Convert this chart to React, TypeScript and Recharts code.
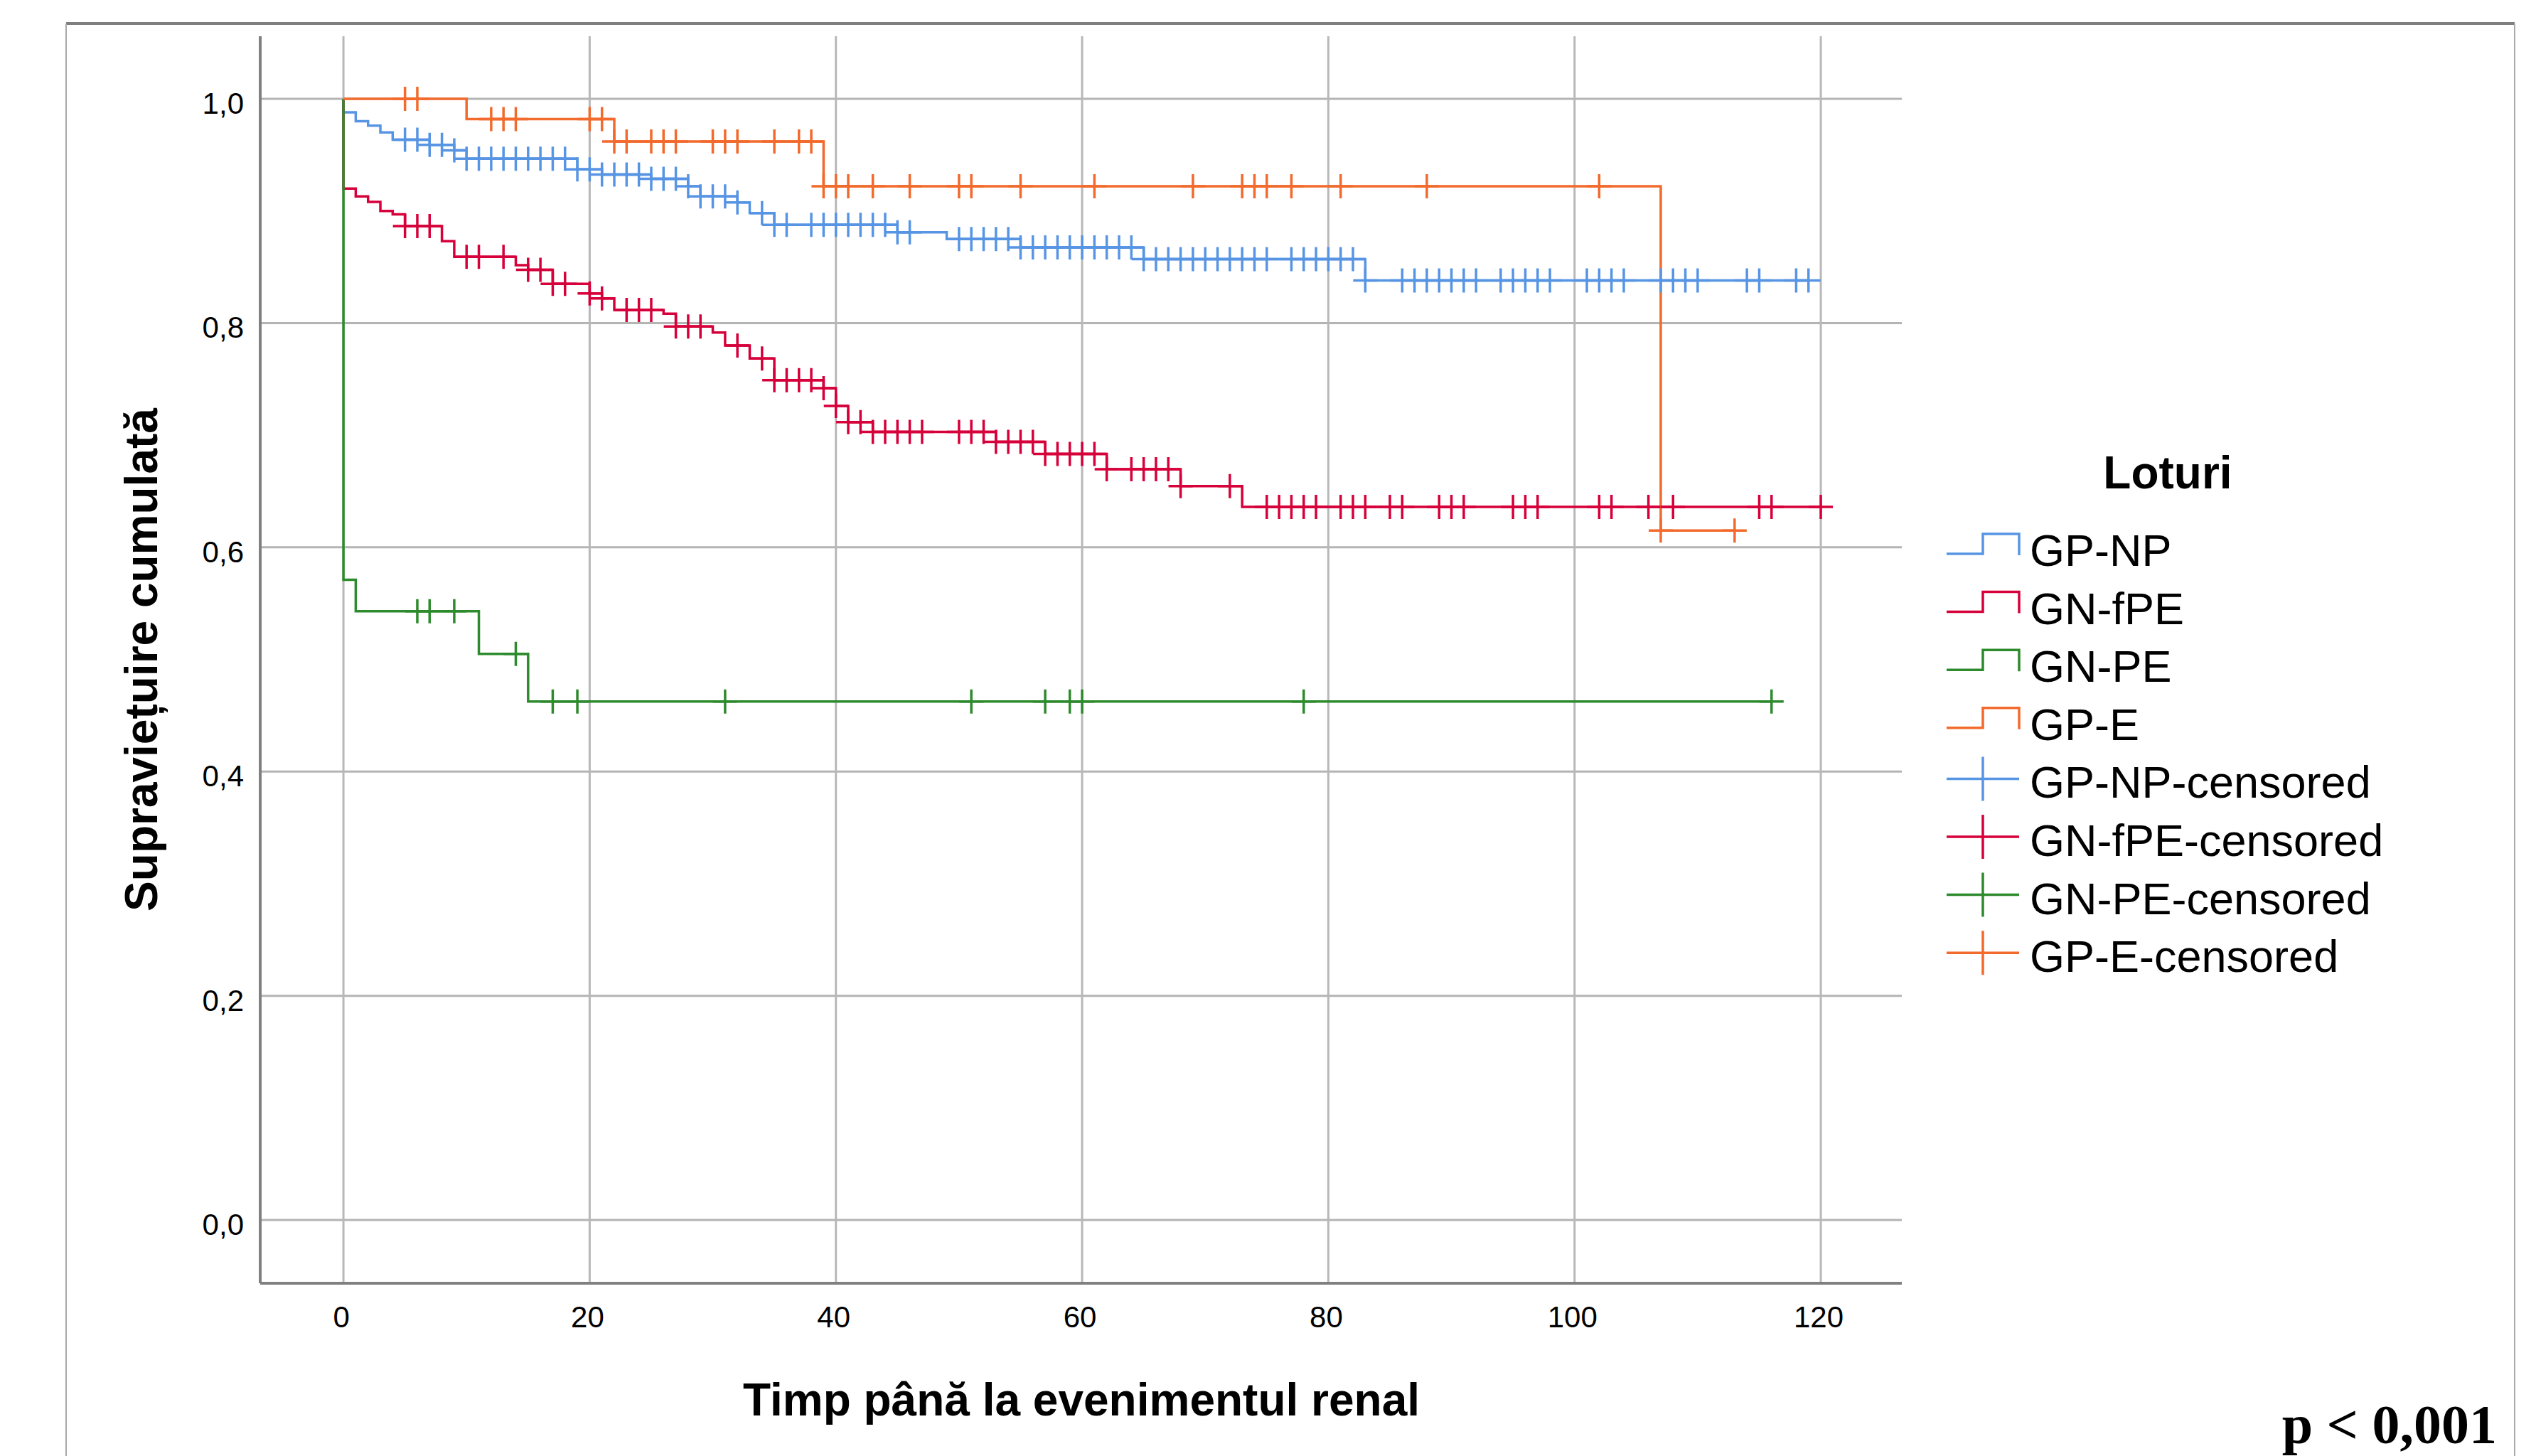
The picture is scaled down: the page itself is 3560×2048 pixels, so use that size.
import React from "react";
import { ComposedChart, Line, Scatter, XAxis, YAxis, ReferenceLine, Legend } from "recharts";

const W = 3560;
const H = 2048;
const FONT = "'Liberation Sans', Arial, sans-serif";

// axis ticks
const timeTicks = [0, 20, 40, 60, 80, 100, 120];
const survTicks = [0, 0.2, 0.4, 0.6, 0.8, 1.0];

// GP-NP: step times, survival after each step, censored times
const gpNpTime = [0, 0, 1, 2, 3, 4, 7, 9, 10, 19, 21, 25, 28, 29, 32, 33, 35, 45, 49, 55, 65, 83, 119];
const gpNpSurv = [1, 0.988, 0.98, 0.976, 0.97, 0.9635, 0.959, 0.954, 0.9466, 0.937, 0.9325, 0.9287, 0.922, 0.913, 0.9076, 0.898, 0.8876, 0.881, 0.875, 0.8675, 0.857, 0.838, 0.838];
const gpNpCensored = [5, 6, 7, 8, 9, 10, 11, 12, 13, 14, 15, 16, 17, 18, 19, 20, 21, 22, 23, 24, 25, 26, 27, 28, 29, 30, 31, 32, 34, 35, 36, 38, 39, 40, 41, 42, 43, 44, 45, 46, 50, 51, 52, 53, 54, 55, 56, 57, 58, 59, 60, 61, 62, 63, 64, 65, 66, 67, 68, 69, 70, 71, 72, 73, 74, 75, 77, 78, 79, 80, 81, 82, 83, 86, 87, 88, 89, 90, 91, 92, 94, 95, 96, 97, 98, 101, 102, 103, 104, 107, 108, 109, 110, 114, 115, 118, 119];

// GN-fPE
const gnFpeTime = [0, 0, 1, 2, 3, 4, 5, 8, 9, 14, 15, 17, 20, 21, 22, 26, 27, 30, 31, 33, 35, 39, 40, 41, 43, 53, 57, 62, 68, 73, 120];
const gnFpeSurv = [1, 0.92, 0.913, 0.908, 0.9, 0.897, 0.8865, 0.873, 0.859, 0.8517, 0.8475, 0.835, 0.8264, 0.822, 0.8116, 0.8084, 0.797, 0.7916, 0.78, 0.7684, 0.749, 0.742, 0.726, 0.7116, 0.703, 0.694, 0.6833, 0.6696, 0.6546, 0.636, 0.636];
const gnFpeCensored = [5, 6, 7, 10, 11, 13, 15, 16, 17, 18, 20, 21, 23, 24, 25, 27, 28, 29, 32, 34, 35, 36, 37, 38, 39, 40, 41, 42, 43, 44, 45, 46, 47, 50, 51, 52, 53, 54, 55, 56, 57, 58, 59, 60, 61, 62, 64, 65, 66, 67, 68, 72, 75, 76, 77, 78, 79, 81, 82, 83, 85, 86, 89, 90, 91, 95, 96, 97, 102, 103, 106, 108, 115, 116, 120];

// GN-PE
const gnPeTime = [0, 0, 1, 11, 15, 116];
const gnPeSurv = [1, 0.571, 0.543, 0.505, 0.4625, 0.4625];
const gnPeCensored = [6, 7, 9, 14, 17, 19, 31, 51, 57, 59, 60, 78, 116];

// GP-E
const gpETime = [0, 10, 22, 39, 107, 113];
const gpESurv = [1, 0.982, 0.962, 0.922, 0.615, 0.615];
const gpECensored = [5, 6, 12, 13, 14, 20, 21, 22, 23, 25, 26, 27, 30, 31, 32, 35, 37, 38, 39, 40, 41, 43, 46, 50, 51, 55, 61, 69, 73, 74, 75, 77, 81, 88, 102, 107, 113];

function stepValue(time: number[], surv: number[], t: number) {
  let v = surv[0];
  for (let i = 0; i < time.length; i++) if (time[i] <= t) v = surv[i];
  return v;
}

const groups = [
  { name: "GP-NP", color: "#5795e4", time: gpNpTime, surv: gpNpSurv, censored: gpNpCensored },
  { name: "GN-fPE", color: "#d6003a", time: gnFpeTime, surv: gnFpeSurv, censored: gnFpeCensored },
  { name: "GN-PE", color: "#2d8a2d", time: gnPeTime, surv: gnPeSurv, censored: gnPeCensored },
  { name: "GP-E", color: "#f26a2c", time: gpETime, surv: gpESurv, censored: gpECensored },
].map((g) => ({
  ...g,
  curve: g.time.map((t, i) => ({ t, s: g.surv[i] })),
  marks: g.censored.map((t) => ({ t, s: stepValue(g.time, g.surv, t) })),
}));

const plusShape = (color: string) => (props: any) => {
  const { cx, cy } = props;
  if (cx == null || cy == null) return <g />;
  return (
    <path
      d={`M${cx - 17},${cy}H${cx + 17}M${cx},${cy - 17}V${cy + 17}`}
      stroke={color}
      strokeWidth={3.5}
      fill="none"
    />
  );
};

const XTick = (props: any) => (
  <text x={props.x - 3} y={props.y + 62} textAnchor="middle" fontFamily={FONT} fontSize={42} fill="#000">
    {props.payload.value}
  </text>
);

const YTick = (props: any) => (
  <text x={props.x - 23} y={props.y + 21} textAnchor="end" fontFamily={FONT} fontSize={42} fill="#000">
    {Number(props.payload.value).toFixed(1).replace(".", ",")}
  </text>
);

function LotLegend() {
  return (
    <svg width={860} height={800} style={{ display: "block" }}>
      <text x={349} y={87} textAnchor="middle" fontFamily={FONT} fontWeight="bold" fontSize={64} fill="#000">
        Loturi
      </text>
      {groups.map((g, i) => {
        const cy = 174 + i * 81.6;
        return (
          <g key={g.name}>
            <path
              d={`M38,${cy + 5}H89V${cy - 23}H140V${cy + 7}`}
              stroke={g.color}
              strokeWidth={3.5}
              fill="none"
            />
            <text x={155} y={cy + 22} fontFamily={FONT} fontSize={63} fill="#000">
              {g.name}
            </text>
          </g>
        );
      })}
      {groups.map((g, i) => {
        const cy = 174 + (i + 4) * 81.6;
        return (
          <g key={g.name + "-c"}>
            <path d={`M38,${cy - 5}H140M89,${cy - 36}V${cy + 26}`} stroke={g.color} strokeWidth={3.5} fill="none" />
            <text x={155} y={cy + 22} fontFamily={FONT} fontSize={63} fill="#000">
              {g.name}-censored
            </text>
          </g>
        );
      })}
    </svg>
  );
}

export default function App() {
  return (
    <div style={{ position: "absolute", left: 0, top: 0, width: W, height: H, background: "#fff" }}>
      <ComposedChart width={W} height={H} margin={{ top: 51, right: 885, bottom: 0, left: 0 }}>
        <XAxis
          dataKey="t"
          type="number"
          domain={[-6.76, 126.58]}
          ticks={timeTicks}
          height={243}
          tickSize={0}
          tickMargin={0}
          tickLine={false}
          axisLine={{ stroke: "#808080", strokeWidth: 4 }}
          tick={<XTick />}
          allowDataOverflow
        />
        <YAxis
          dataKey="s"
          type="number"
          domain={[-0.0564, 1.0558]}
          ticks={survTicks}
          width={366}
          tickSize={0}
          tickMargin={0}
          tickLine={false}
          axisLine={{ stroke: "#808080", strokeWidth: 4 }}
          tick={<YTick />}
          allowDataOverflow
        />
        {survTicks.map((v) => (
          <ReferenceLine key={"h" + v} y={v} stroke="#b4b4b4" strokeWidth={3} />
        ))}
        {timeTicks.map((v) => (
          <ReferenceLine key={"v" + v} x={v} stroke="#b8b8b8" strokeWidth={3} />
        ))}
        {groups.map((g) => (
          <Line
            key={g.name}
            data={g.curve}
            dataKey="s"
            type="stepAfter"
            stroke={g.color}
            strokeWidth={3.5}
            dot={false}
            activeDot={false}
            isAnimationActive={false}
            legendType="none"
          />
        ))}
        {groups.map((g) => (
          <Scatter
            key={g.name + "-c"}
            data={g.marks}
            dataKey="s"
            shape={plusShape(g.color)}
            isAnimationActive={false}
            legendType="none"
          />
        ))}
        <Legend
          layout="vertical"
          align="center"
          verticalAlign="middle"
          wrapperStyle={{ left: 2700, top: 600, width: 860, height: 800 }}
          content={() => <LotLegend />}
        />
      </ComposedChart>
      <svg width={W} height={H} style={{ position: "absolute", left: 0, top: 0, pointerEvents: "none" }}>
        <line x1={93} y1={33} x2={3537} y2={33} stroke="#7f7f7f" strokeWidth={4} />
        <line x1={93} y1={33} x2={93} y2={H} stroke="#a8a8a8" strokeWidth={2} />
        <line x1={3537} y1={33} x2={3537} y2={H} stroke="#a8a8a8" strokeWidth={2} />
        <text x={1521} y={1991} textAnchor="middle" fontFamily={FONT} fontWeight="bold" fontSize={64} fill="#000">
          Timp până la evenimentul renal
        </text>
        <text
          transform="translate(221,928) rotate(-90)"
          textAnchor="middle"
          fontFamily={FONT}
          fontWeight="bold"
          fontSize={64}
          fill="#000"
        >
          Supraviețuire cumulată
        </text>
        <text
          x={3512}
          y={2030}
          textAnchor="end"
          fontFamily="'Liberation Serif', 'Times New Roman', serif"
          fontWeight="bold"
          fontSize={78}
          fill="#000"
        >
          p &lt; 0,001
        </text>
      </svg>
    </div>
  );
}
